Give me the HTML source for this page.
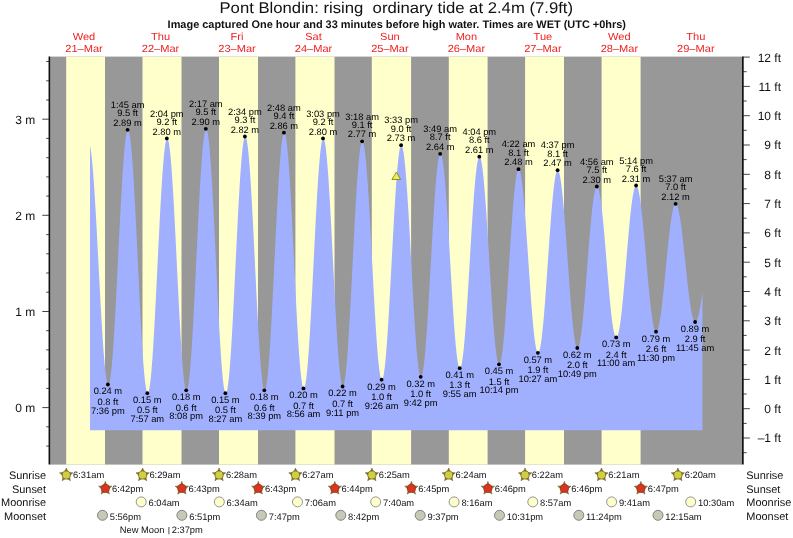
<!DOCTYPE html>
<html><head><meta charset="utf-8"><title>Pont Blondin tide times</title>
<style>
html,body{margin:0;padding:0;background:#fff}
svg{display:block}
text{font-family:"Liberation Sans",Arial,Helvetica,sans-serif;fill:#111;text-rendering:geometricPrecision}
.t{font-size:9.33px;text-anchor:middle;fill:#000}
.s{font-size:9.33px}
.d{font-size:10.3px;text-anchor:middle;fill:#f02020}
.a{font-size:12px}
.r{font-size:10.95px}
</style></head><body>
<svg width="793" height="538" viewBox="0 0 793 538">
<rect width="793" height="538" fill="#fff"/>
<text transform="translate(396.25 13) scale(1.0771 1)" x="0" y="0" text-anchor="middle" style="font-size:15.5px">Pont Blondin: rising&#160; ordinary tide at 2.4m (7.9ft)</text>
<text x="396.8" y="27.5" text-anchor="middle" style="font-size:10.94px;font-weight:bold">Image captured One hour and 33 minutes before high water. Times are WET (UTC +0hrs)</text>
<g transform="translate(84.0 0) scale(1.075 1)"><text class="d" x="0" y="39.6">Wed</text><text class="d" x="0" y="51.7">21–Mar</text></g>
<g transform="translate(160.5 0) scale(1.075 1)"><text class="d" x="0" y="39.6">Thu</text><text class="d" x="0" y="51.7">22–Mar</text></g>
<g transform="translate(237.0 0) scale(1.075 1)"><text class="d" x="0" y="39.6">Fri</text><text class="d" x="0" y="51.7">23–Mar</text></g>
<g transform="translate(313.5 0) scale(1.075 1)"><text class="d" x="0" y="39.6">Sat</text><text class="d" x="0" y="51.7">24–Mar</text></g>
<g transform="translate(389.9 0) scale(1.075 1)"><text class="d" x="0" y="39.6">Sun</text><text class="d" x="0" y="51.7">25–Mar</text></g>
<g transform="translate(466.4 0) scale(1.075 1)"><text class="d" x="0" y="39.6">Mon</text><text class="d" x="0" y="51.7">26–Mar</text></g>
<g transform="translate(542.9 0) scale(1.075 1)"><text class="d" x="0" y="39.6">Tue</text><text class="d" x="0" y="51.7">27–Mar</text></g>
<g transform="translate(619.4 0) scale(1.075 1)"><text class="d" x="0" y="39.6">Wed</text><text class="d" x="0" y="51.7">28–Mar</text></g>
<g transform="translate(695.8 0) scale(1.075 1)"><text class="d" x="0" y="39.6">Thu</text><text class="d" x="0" y="51.7">29–Mar</text></g>
<rect x="50" y="56.6" width="692" height="408.0" fill="#989898"/>
<rect x="66.2" y="56.6" width="38.8" height="408.0" fill="#ffffcc"/>
<rect x="142.5" y="56.6" width="39.0" height="408.0" fill="#ffffcc"/>
<rect x="219.0" y="56.6" width="39.0" height="408.0" fill="#ffffcc"/>
<rect x="295.4" y="56.6" width="39.1" height="408.0" fill="#ffffcc"/>
<rect x="371.8" y="56.6" width="39.3" height="408.0" fill="#ffffcc"/>
<rect x="448.8" y="56.6" width="38.8" height="408.0" fill="#ffffcc"/>
<rect x="525.1" y="56.6" width="38.9" height="408.0" fill="#ffffcc"/>
<rect x="601.6" y="56.6" width="39.0" height="408.0" fill="#ffffcc"/>
<path transform="translate(0.5 0)" d="M89.53 430.20L89.53 145.89L89.97 148.07L90.41 150.82L90.85 154.11L91.28 157.92L91.72 162.25L92.16 167.08L92.60 172.36L93.03 178.09L93.47 184.23L93.91 190.76L94.34 197.64L94.78 204.84L95.22 212.32L95.66 220.05L96.09 227.99L96.53 236.11L96.97 244.36L97.41 252.70L97.84 261.09L98.28 269.50L98.72 277.87L99.16 286.18L99.59 294.38L100.03 302.44L100.47 310.30L100.91 317.94L101.34 325.31L101.78 332.39L102.22 339.13L102.66 345.51L103.09 351.50L103.53 357.06L103.97 362.16L104.41 366.79L104.84 370.93L105.28 374.54L105.72 377.62L106.16 380.14L106.59 382.10L107.03 383.49L107.47 384.30L107.91 384.52L108.34 384.14L108.78 383.13L109.22 381.50L109.66 379.26L110.09 376.42L110.53 373.00L110.97 369.00L111.40 364.46L111.84 359.39L112.28 353.81L112.72 347.76L113.15 341.27L113.59 334.36L114.03 327.07L114.47 319.44L114.90 311.50L115.34 303.29L115.78 294.86L116.22 286.24L116.65 277.48L117.09 268.62L117.53 259.71L117.97 250.78L118.40 241.88L118.84 233.06L119.28 224.35L119.72 215.81L120.15 207.47L120.59 199.37L121.03 191.56L121.47 184.07L121.90 176.94L122.34 170.21L122.78 163.90L123.22 158.05L123.65 152.69L124.09 147.84L124.53 143.53L124.97 139.77L125.40 136.60L125.84 134.01L126.28 132.04L126.72 130.67L127.15 129.93L127.59 129.82L128.03 130.33L128.47 131.49L128.90 133.27L129.34 135.67L129.78 138.68L130.21 142.29L130.65 146.47L131.09 151.21L131.53 156.48L131.96 162.26L132.40 168.51L132.84 175.22L133.28 182.35L133.71 189.86L134.15 197.71L134.59 205.87L135.03 214.31L135.46 222.97L135.90 231.81L136.34 240.80L136.78 249.89L137.21 259.04L137.65 268.20L138.09 277.32L138.53 286.37L138.96 295.30L139.40 304.06L139.84 312.62L140.28 320.93L140.71 328.96L141.15 336.66L141.59 343.99L142.03 350.92L142.46 357.43L142.90 363.47L143.34 369.01L143.78 374.04L144.21 378.52L144.65 382.43L145.09 385.76L145.53 388.49L145.96 390.60L146.40 392.09L146.84 392.95L147.27 393.17L147.71 392.76L148.15 391.72L148.59 390.05L149.02 387.76L149.46 384.87L149.90 381.39L150.34 377.33L150.77 372.72L151.21 367.57L151.65 361.92L152.09 355.80L152.52 349.22L152.96 342.23L153.40 334.87L153.84 327.15L154.27 319.14L154.71 310.86L155.15 302.35L155.59 293.66L156.02 284.84L156.46 275.92L156.90 266.95L157.34 257.97L157.77 249.04L158.21 240.18L158.65 231.46L159.09 222.90L159.52 214.56L159.96 206.47L160.40 198.68L160.84 191.22L161.27 184.13L161.71 177.45L162.15 171.20L162.59 165.43L163.02 160.16L163.46 155.41L163.90 151.21L164.33 147.57L164.77 144.53L165.21 142.09L165.65 140.26L166.08 139.06L166.52 138.49L166.96 138.55L167.40 139.24L167.83 140.57L168.27 142.53L168.71 145.09L169.15 148.27L169.58 152.02L170.02 156.35L170.46 161.22L170.90 166.61L171.33 172.50L171.77 178.85L172.21 185.63L172.65 192.81L173.08 200.35L173.52 208.21L173.96 216.36L174.40 224.75L174.83 233.34L175.27 242.09L175.71 250.95L176.15 259.88L176.58 268.83L177.02 277.76L177.46 286.62L177.90 295.36L178.33 303.96L178.77 312.35L179.21 320.50L179.65 328.36L180.08 335.90L180.52 343.08L180.96 349.87L181.40 356.22L181.83 362.10L182.27 367.50L182.71 372.37L183.14 376.70L183.58 380.46L184.02 383.63L184.46 386.20L184.89 388.16L185.33 389.49L185.77 390.18L186.21 390.24L186.64 389.66L187.08 388.45L187.52 386.59L187.96 384.12L188.39 381.03L188.83 377.34L189.27 373.07L189.71 368.25L190.14 362.89L190.58 357.03L191.02 350.68L191.46 343.89L191.89 336.68L192.33 329.10L192.77 321.17L193.21 312.94L193.64 304.44L194.08 295.73L194.52 286.84L194.96 277.81L195.39 268.70L195.83 259.54L196.27 250.38L196.71 241.26L197.14 232.23L197.58 223.34L198.02 214.63L198.46 206.14L198.89 197.91L199.33 189.98L199.77 182.40L200.20 175.19L200.64 168.40L201.08 162.06L201.52 156.20L201.95 150.84L202.39 146.02L202.83 141.76L203.27 138.08L203.70 134.99L204.14 132.52L204.58 130.67L205.02 129.45L205.45 128.87L205.89 128.94L206.33 129.65L206.77 131.01L207.20 133.00L207.64 135.61L208.08 138.84L208.52 142.67L208.95 147.07L209.39 152.03L209.83 157.53L210.27 163.53L210.70 170.00L211.14 176.93L211.58 184.26L212.02 191.97L212.45 200.01L212.89 208.36L213.33 216.96L213.77 225.77L214.20 234.76L214.64 243.88L215.08 253.08L215.52 262.32L215.95 271.55L216.39 280.73L216.83 289.82L217.26 298.76L217.70 307.52L218.14 316.05L218.58 324.32L219.01 332.27L219.45 339.87L219.89 347.09L220.33 353.89L220.76 360.24L221.20 366.09L221.64 371.44L222.08 376.24L222.51 380.49L222.95 384.14L223.39 387.20L223.83 389.64L224.26 391.45L224.70 392.62L225.14 393.15L225.58 393.03L226.01 392.28L226.45 390.89L226.89 388.88L227.33 386.25L227.76 383.02L228.20 379.20L228.64 374.81L229.08 369.88L229.51 364.42L229.95 358.47L230.39 352.05L230.83 345.20L231.26 337.95L231.70 330.34L232.14 322.40L232.58 314.18L233.01 305.71L233.45 297.04L233.89 288.21L234.33 279.26L234.76 270.24L235.20 261.19L235.64 252.17L236.07 243.20L236.51 234.34L236.95 225.64L237.39 217.13L237.82 208.85L238.26 200.86L238.70 193.18L239.14 185.86L239.57 178.93L240.01 172.42L240.45 166.38L240.89 160.83L241.32 155.79L241.76 151.30L242.20 147.37L242.64 144.02L243.07 141.27L243.51 139.14L243.95 137.63L244.39 136.76L244.82 136.52L245.26 136.92L245.70 137.95L246.14 139.62L246.57 141.90L247.01 144.80L247.45 148.29L247.89 152.36L248.32 156.99L248.76 162.15L249.20 167.83L249.64 173.98L250.07 180.58L250.51 187.60L250.95 195.00L251.39 202.74L251.82 210.79L252.26 219.10L252.70 227.63L253.13 236.34L253.57 245.19L254.01 254.13L254.45 263.12L254.88 272.11L255.32 281.06L255.76 289.91L256.20 298.64L256.63 307.18L257.07 315.51L257.51 323.57L257.95 331.34L258.38 338.76L258.82 345.80L259.26 352.43L259.70 358.61L260.13 364.31L260.57 369.51L261.01 374.17L261.45 378.28L261.88 381.81L262.32 384.74L262.76 387.07L263.20 388.77L263.63 389.85L264.07 390.29L264.51 390.09L264.95 389.26L265.38 387.80L265.82 385.72L266.26 383.03L266.70 379.75L267.13 375.88L267.57 371.45L268.01 366.48L268.45 360.99L268.88 355.01L269.32 348.58L269.76 341.71L270.19 334.45L270.63 326.84L271.07 318.90L271.51 310.68L271.94 302.22L272.38 293.55L272.82 284.73L273.26 275.80L273.69 266.79L274.13 257.76L274.57 248.75L275.01 239.80L275.44 230.95L275.88 222.26L276.32 213.76L276.76 205.49L277.19 197.50L277.63 189.83L278.07 182.50L278.51 175.57L278.94 169.05L279.38 162.99L279.82 157.42L280.26 152.35L280.69 147.83L281.13 143.86L281.57 140.47L282.01 137.67L282.44 135.49L282.88 133.92L283.32 132.98L283.76 132.67L284.19 132.99L284.63 133.95L285.07 135.53L285.51 137.72L285.94 140.53L286.38 143.92L286.82 147.90L287.26 152.43L287.69 157.49L288.13 163.07L288.57 169.12L289.00 175.63L289.44 182.56L289.88 189.87L290.32 197.53L290.75 205.50L291.19 213.74L291.63 222.22L292.07 230.89L292.50 239.70L292.94 248.61L293.38 257.58L293.82 266.57L294.25 275.53L294.69 284.41L295.13 293.18L295.57 301.78L296.00 310.18L296.44 318.34L296.88 326.21L297.32 333.75L297.75 340.93L298.19 347.72L298.63 354.07L299.07 359.96L299.50 365.36L299.94 370.25L300.38 374.59L300.82 378.36L301.25 381.55L301.69 384.15L302.13 386.13L302.57 387.50L303.00 388.23L303.44 388.34L303.88 387.82L304.32 386.69L304.75 384.94L305.19 382.58L305.63 379.64L306.06 376.12L306.50 372.03L306.94 367.41L307.38 362.27L307.81 356.64L308.25 350.55L308.69 344.02L309.13 337.09L309.56 329.80L310.00 322.18L310.44 314.26L310.88 306.09L311.31 297.71L311.75 289.16L312.19 280.48L312.63 271.72L313.06 262.91L313.50 254.11L313.94 245.35L314.38 236.69L314.81 228.15L315.25 219.79L315.69 211.65L316.13 203.77L316.56 196.18L317.00 188.92L317.44 182.04L317.88 175.56L318.31 169.51L318.75 163.94L319.19 158.86L319.63 154.29L320.06 150.27L320.50 146.81L320.94 143.93L321.38 141.65L321.81 139.97L322.25 138.90L322.69 138.45L323.13 138.62L323.56 139.40L324.00 140.79L324.44 142.79L324.87 145.37L325.31 148.53L325.75 152.25L326.19 156.52L326.62 161.32L327.06 166.61L327.50 172.37L327.94 178.59L328.37 185.21L328.81 192.22L329.25 199.57L329.69 207.24L330.12 215.18L330.56 223.35L331.00 231.71L331.44 240.23L331.87 248.86L332.31 257.55L332.75 266.27L333.19 274.97L333.62 283.60L334.06 292.14L334.50 300.52L334.94 308.72L335.37 316.69L335.81 324.39L336.25 331.78L336.69 338.84L337.12 345.51L337.56 351.77L338.00 357.60L338.44 362.95L338.87 367.80L339.31 372.14L339.75 375.93L340.19 379.16L340.62 381.82L341.06 383.88L341.50 385.35L341.93 386.20L342.37 386.45L342.81 386.08L343.25 385.11L343.68 383.54L344.12 381.37L344.56 378.61L345.00 375.29L345.43 371.41L345.87 367.00L346.31 362.08L346.75 356.67L347.18 350.79L347.62 344.49L348.06 337.78L348.50 330.71L348.93 323.31L349.37 315.61L349.81 307.65L350.25 299.48L350.68 291.13L351.12 282.64L351.56 274.06L352.00 265.43L352.43 256.79L352.87 248.19L353.31 239.66L353.75 231.26L354.18 223.02L354.62 214.98L355.06 207.18L355.50 199.67L355.93 192.47L356.37 185.63L356.81 179.18L357.25 173.15L357.68 167.57L358.12 162.47L358.56 157.87L358.99 153.80L359.43 150.28L359.87 147.32L360.31 144.94L360.74 143.15L361.18 141.97L361.62 141.38L362.06 141.41L362.49 142.02L362.93 143.22L363.37 145.00L363.81 147.35L364.24 150.26L364.68 153.71L365.12 157.70L365.56 162.19L365.99 167.17L366.43 172.60L366.87 178.48L367.31 184.75L367.74 191.41L368.18 198.40L368.62 205.70L369.06 213.27L369.49 221.08L369.93 229.08L370.37 237.24L370.81 245.51L371.24 253.85L371.68 262.23L372.12 270.60L372.56 278.92L372.99 287.15L373.43 295.25L373.87 303.17L374.31 310.89L374.74 318.35L375.18 325.53L375.62 332.39L376.06 338.90L376.49 345.01L376.93 350.71L377.37 355.97L377.80 360.75L378.24 365.03L378.68 368.80L379.12 372.04L379.55 374.72L379.99 376.84L380.43 378.38L380.87 379.34L381.30 379.72L381.74 379.50L382.18 378.71L382.62 377.34L383.05 375.39L383.49 372.89L383.93 369.84L384.37 366.25L384.80 362.15L385.24 357.55L385.68 352.48L386.12 346.96L386.55 341.02L386.99 334.69L387.43 328.00L387.87 320.99L388.30 313.69L388.74 306.13L389.18 298.35L389.62 290.40L390.05 282.30L390.49 274.11L390.93 265.86L391.37 257.59L391.80 249.35L392.24 241.17L392.68 233.10L393.12 225.17L393.55 217.43L393.99 209.91L394.43 202.66L394.86 195.70L395.30 189.07L395.74 182.81L396.18 176.94L396.61 171.50L397.05 166.51L397.49 161.99L397.93 157.98L398.36 154.48L398.80 151.52L399.24 149.12L399.68 147.27L400.11 146.00L400.55 145.30L400.99 145.19L401.43 145.65L401.86 146.68L402.30 148.27L402.74 150.41L403.18 153.10L403.61 156.32L404.05 160.05L404.49 164.28L404.93 168.98L405.36 174.14L405.80 179.72L406.24 185.70L406.68 192.05L407.11 198.75L407.55 205.74L407.99 213.01L408.43 220.52L408.86 228.22L409.30 236.09L409.74 244.07L410.18 252.15L410.61 260.26L411.05 268.38L411.49 276.46L411.92 284.47L412.36 292.36L412.80 300.09L413.24 307.64L413.67 314.95L414.11 322.00L414.55 328.75L414.99 335.17L415.42 341.22L415.86 346.88L416.30 352.12L416.74 356.90L417.17 361.22L417.61 365.04L418.05 368.36L418.49 371.14L418.92 373.38L419.36 375.08L419.80 376.21L420.24 376.77L420.67 376.77L421.11 376.21L421.55 375.10L421.99 373.44L422.42 371.25L422.86 368.53L423.30 365.30L423.74 361.57L424.17 357.36L424.61 352.70L425.05 347.60L425.49 342.09L425.92 336.21L426.36 329.97L426.80 323.40L427.24 316.55L427.67 309.45L428.11 302.12L428.55 294.62L428.99 286.96L429.42 279.20L429.86 271.37L430.30 263.51L430.73 255.66L431.17 247.86L431.61 240.15L432.05 232.56L432.48 225.13L432.92 217.90L433.36 210.91L433.80 204.19L434.23 197.77L434.67 191.69L435.11 185.97L435.55 180.65L435.98 175.75L436.42 171.29L436.86 167.30L437.30 163.80L437.73 160.80L438.17 158.33L438.61 156.38L439.05 154.98L439.48 154.12L439.92 153.82L440.36 154.06L440.80 154.84L441.23 156.14L441.67 157.97L442.11 160.32L442.55 163.17L442.98 166.51L443.42 170.32L443.86 174.58L444.30 179.27L444.73 184.38L445.17 189.86L445.61 195.70L446.05 201.87L446.48 208.34L446.92 215.06L447.36 222.02L447.79 229.17L448.23 236.48L448.67 243.91L449.11 251.43L449.54 258.99L449.98 266.57L450.42 274.12L450.86 281.60L451.29 288.98L451.73 296.22L452.17 303.28L452.61 310.13L453.04 316.74L453.48 323.07L453.92 329.08L454.36 334.76L454.79 340.07L455.23 344.99L455.67 349.48L456.11 353.53L456.54 357.12L456.98 360.23L457.42 362.85L457.86 364.95L458.29 366.54L458.73 367.60L459.17 368.12L459.61 368.12L460.04 367.59L460.48 366.54L460.92 364.99L461.36 362.93L461.79 360.37L462.23 357.33L462.67 353.83L463.11 349.88L463.54 345.50L463.98 340.71L464.42 335.53L464.85 330.00L465.29 324.13L465.73 317.96L466.17 311.52L466.60 304.84L467.04 297.95L467.48 290.88L467.92 283.67L468.35 276.36L468.79 268.98L469.23 261.57L469.67 254.17L470.10 246.80L470.54 239.51L470.98 232.33L471.42 225.31L471.85 218.46L472.29 211.83L472.73 205.45L473.17 199.35L473.60 193.56L474.04 188.11L474.48 183.02L474.92 178.32L475.35 174.04L475.79 170.19L476.23 166.80L476.67 163.87L477.10 161.43L477.54 159.49L477.98 158.05L478.42 157.13L478.85 156.72L479.29 156.83L479.73 157.45L480.17 158.57L480.60 160.19L481.04 162.30L481.48 164.89L481.92 167.95L482.35 171.46L482.79 175.41L483.23 179.77L483.66 184.53L484.10 189.65L484.54 195.13L484.98 200.92L485.41 207.01L485.85 213.36L486.29 219.94L486.73 226.71L487.16 233.66L487.60 240.73L488.04 247.90L488.48 255.13L488.91 262.39L489.35 269.64L489.79 276.84L490.23 283.97L490.66 290.98L491.10 297.84L491.54 304.52L491.98 310.98L492.41 317.20L492.85 323.14L493.29 328.77L493.73 334.07L494.16 339.01L494.60 343.57L495.04 347.72L495.48 351.44L495.91 354.72L496.35 357.54L496.79 359.89L497.23 361.75L497.66 363.11L498.10 363.97L498.54 364.33L498.98 364.19L499.41 363.56L499.85 362.46L500.29 360.88L500.72 358.84L501.16 356.35L501.60 353.41L502.04 350.04L502.47 346.26L502.91 342.09L503.35 337.55L503.79 332.65L504.22 327.43L504.66 321.91L505.10 316.12L505.54 310.09L505.97 303.84L506.41 297.40L506.85 290.82L507.29 284.12L507.72 277.33L508.16 270.49L508.60 263.63L509.04 256.78L509.47 249.99L509.91 243.28L510.35 236.68L510.79 230.24L511.22 223.97L511.66 217.91L512.10 212.10L512.54 206.56L512.97 201.31L513.41 196.39L513.85 191.82L514.29 187.61L514.72 183.80L515.16 180.40L515.60 177.42L516.04 174.89L516.47 172.81L516.91 171.19L517.35 170.05L517.78 169.38L518.22 169.20L518.66 169.49L519.10 170.23L519.53 171.43L519.97 173.08L520.41 175.18L520.85 177.70L521.28 180.64L521.72 183.99L522.16 187.72L522.60 191.82L523.03 196.27L523.47 201.05L523.91 206.12L524.35 211.47L524.78 217.07L525.22 222.89L525.66 228.91L526.10 235.08L526.53 241.38L526.97 247.78L527.41 254.25L527.85 260.75L528.28 267.26L528.72 273.73L529.16 280.14L529.60 286.45L530.03 292.63L530.47 298.66L530.91 304.50L531.35 310.11L531.78 315.48L532.22 320.58L532.66 325.38L533.10 329.85L533.53 333.98L533.97 337.74L534.41 341.12L534.85 344.09L535.28 346.65L535.72 348.78L536.16 350.46L536.59 351.70L537.03 352.48L537.47 352.80L537.91 352.66L538.34 352.08L538.78 351.05L539.22 349.59L539.66 347.70L540.09 345.38L540.53 342.66L540.97 339.53L541.41 336.03L541.84 332.16L542.28 327.95L542.72 323.41L543.16 318.57L543.59 313.45L544.03 308.07L544.47 302.47L544.91 296.67L545.34 290.69L545.78 284.57L546.22 278.34L546.66 272.03L547.09 265.67L547.53 259.28L547.97 252.91L548.41 246.57L548.84 240.31L549.28 234.16L549.72 228.14L550.16 222.28L550.59 216.61L551.03 211.16L551.47 205.96L551.91 201.03L552.34 196.39L552.78 192.07L553.22 188.10L553.65 184.48L554.09 181.24L554.53 178.39L554.97 175.94L555.40 173.92L555.84 172.32L556.28 171.16L556.72 170.44L557.15 170.16L557.59 170.33L558.03 170.92L558.47 171.94L558.90 173.39L559.34 175.24L559.78 177.50L560.22 180.16L560.65 183.20L561.09 186.61L561.53 190.36L561.97 194.45L562.40 198.85L562.84 203.54L563.28 208.50L563.72 213.71L564.15 219.14L564.59 224.75L565.03 230.54L565.47 236.46L565.90 242.49L566.34 248.60L566.78 254.77L567.22 260.95L567.65 267.12L568.09 273.26L568.53 279.33L568.97 285.30L569.40 291.14L569.84 296.83L570.28 302.33L570.72 307.63L571.15 312.69L571.59 317.49L572.03 322.01L572.46 326.22L572.90 330.11L573.34 333.66L573.78 336.84L574.21 339.65L574.65 342.07L575.09 344.09L575.53 345.70L575.96 346.88L576.40 347.65L576.84 347.98L577.28 347.90L577.71 347.41L578.15 346.52L578.59 345.24L579.03 343.57L579.46 341.52L579.90 339.10L580.34 336.33L580.78 333.21L581.21 329.76L581.65 326.01L582.09 321.96L582.53 317.64L582.96 313.07L583.40 308.27L583.84 303.27L584.28 298.09L584.71 292.75L585.15 287.29L585.59 281.73L586.03 276.10L586.46 270.42L586.90 264.73L587.34 259.05L587.78 253.41L588.21 247.84L588.65 242.37L589.09 237.02L589.52 231.82L589.96 226.80L590.40 221.97L590.84 217.37L591.27 213.02L591.71 208.94L592.15 205.15L592.59 201.67L593.02 198.51L593.46 195.70L593.90 193.24L594.34 191.15L594.77 189.44L595.21 188.11L595.65 187.18L596.09 186.64L596.52 186.51L596.96 186.76L597.40 187.39L597.84 188.40L598.27 189.78L598.71 191.53L599.15 193.63L599.59 196.08L600.02 198.86L600.46 201.96L600.90 205.36L601.34 209.05L601.77 213.00L602.21 217.20L602.65 221.63L603.09 226.26L603.52 231.08L603.96 236.04L604.40 241.14L604.84 246.35L605.27 251.63L605.71 256.97L606.15 262.33L606.58 267.69L607.02 273.02L607.46 278.29L607.90 283.48L608.33 288.57L608.77 293.51L609.21 298.30L609.65 302.91L610.08 307.31L610.52 311.48L610.96 315.40L611.40 319.05L611.83 322.41L612.27 325.47L612.71 328.20L613.15 330.60L613.58 332.66L614.02 334.35L614.46 335.68L614.90 336.64L615.33 337.22L615.77 337.42L616.21 337.25L616.65 336.72L617.08 335.83L617.52 334.58L617.96 332.98L618.40 331.03L618.83 328.76L619.27 326.16L619.71 323.26L620.15 320.06L620.58 316.57L621.02 312.83L621.46 308.84L621.90 304.62L622.33 300.20L622.77 295.59L623.21 290.81L623.65 285.90L624.08 280.87L624.52 275.75L624.96 270.56L625.39 265.32L625.83 260.07L626.27 254.83L626.71 249.61L627.14 244.45L627.58 239.38L628.02 234.41L628.46 229.57L628.89 224.88L629.33 220.37L629.77 216.05L630.21 211.95L630.64 208.09L631.08 204.49L631.52 201.15L631.96 198.11L632.39 195.37L632.83 192.94L633.27 190.85L633.71 189.09L634.14 187.67L634.58 186.61L635.02 185.91L635.46 185.57L635.89 185.59L636.33 185.96L636.77 186.68L637.21 187.73L637.64 189.12L638.08 190.83L638.52 192.87L638.96 195.22L639.39 197.87L639.83 200.81L640.27 204.02L640.71 207.48L641.14 211.20L641.58 215.13L642.02 219.27L642.45 223.60L642.89 228.09L643.33 232.73L643.77 237.49L644.20 242.35L644.64 247.28L645.08 252.27L645.52 257.29L645.95 262.32L646.39 267.33L646.83 272.30L647.27 277.20L647.70 282.01L648.14 286.72L648.58 291.29L649.02 295.70L649.45 299.94L649.89 303.99L650.33 307.82L650.77 311.41L651.20 314.76L651.64 317.84L652.08 320.64L652.52 323.15L652.95 325.35L653.39 327.23L653.83 328.79L654.27 330.02L654.70 330.91L655.14 331.45L655.58 331.66L656.02 331.52L656.45 331.07L656.89 330.31L657.33 329.24L657.77 327.86L658.20 326.18L658.64 324.21L659.08 321.96L659.51 319.44L659.95 316.66L660.39 313.64L660.83 310.39L661.26 306.93L661.70 303.28L662.14 299.44L662.58 295.46L663.01 291.33L663.45 287.08L663.89 282.74L664.33 278.33L664.76 273.86L665.20 269.36L665.64 264.86L666.08 260.37L666.51 255.91L666.95 251.51L667.39 247.20L667.83 242.98L668.26 238.89L668.70 234.95L669.14 231.16L669.58 227.56L670.01 224.15L670.45 220.97L670.89 218.01L671.33 215.31L671.76 212.86L672.20 210.68L672.64 208.79L673.08 207.20L673.51 205.90L673.95 204.91L674.39 204.23L674.83 203.87L675.26 203.82L675.70 204.07L676.14 204.62L676.58 205.45L677.01 206.56L677.45 207.95L677.89 209.62L678.32 211.55L678.76 213.73L679.20 216.15L679.64 218.81L680.07 221.68L680.51 224.76L680.95 228.03L681.39 231.47L681.82 235.06L682.26 238.79L682.70 242.64L683.14 246.60L683.57 250.63L684.01 254.72L684.45 258.86L684.89 263.01L685.32 267.16L685.76 271.30L686.20 275.39L686.64 279.42L687.07 283.36L687.51 287.21L687.95 290.94L688.39 294.53L688.82 297.96L689.26 301.22L689.70 304.29L690.14 307.15L690.57 309.80L691.01 312.22L691.45 314.39L691.89 316.30L692.32 317.96L692.76 319.34L693.20 320.44L693.64 321.26L694.07 321.79L694.51 322.03L694.95 321.99L695.38 321.71L695.82 321.20L696.26 320.46L696.70 319.49L697.13 318.30L697.57 316.89L698.01 315.26L698.45 313.44L698.88 311.41L699.32 309.20L699.76 306.81L700.20 304.25L700.63 301.53L701.07 298.67L701.51 295.68L701.95 292.57L701.95 430.20Z" fill="#a0b0ff"/>
<g stroke="#111" stroke-width="1.3" fill="none">
<path d="M49.35 56.6 V464.6" stroke-width="1.6"/><path d="M742.85 56.6 V464.6" stroke-width="1.7"/>
</g><g stroke="#222" stroke-width="0.85" fill="none"><path d="M46.2 446.1H49 M46.2 426.8H49 M42.3 407.6H49 M46.2 388.4H49 M46.2 369.1H49 M46.2 349.9H49 M46.2 330.7H49 M42.3 311.5H49 M46.2 292.2H49 M46.2 273.0H49 M46.2 253.8H49 M46.2 234.6H49 M42.3 215.3H49 M46.2 196.1H49 M46.2 176.9H49 M46.2 157.7H49 M46.2 138.4H49 M42.3 119.2H49 M46.2 100.0H49 M46.2 80.8H49 M46.2 61.5H49 "/><path d="M743 452.7H746.6 M743 438.0H749.8 M743 423.4H746.6 M743 408.7H749.8 M743 394.0H746.6 M743 379.4H749.8 M743 364.7H746.6 M743 350.1H749.8 M743 335.4H746.6 M743 320.8H749.8 M743 306.1H746.6 M743 291.5H749.8 M743 276.8H746.6 M743 262.2H749.8 M743 247.5H746.6 M743 232.9H749.8 M743 218.2H746.6 M743 203.6H749.8 M743 188.9H746.6 M743 174.3H749.8 M743 159.6H746.6 M743 145.0H749.8 M743 130.3H746.6 M743 115.7H749.8 M743 101.0H746.6 M743 86.4H749.8 M743 71.7H746.6 M743 57.1H749.8 "/></g>
<text class="a" x="35.2" y="411.8" text-anchor="end">0 m</text><text class="a" x="35.2" y="315.6" text-anchor="end">1 m</text><text class="a" x="35.2" y="220.4" text-anchor="end">2 m</text><text class="a" x="35.2" y="124.3" text-anchor="end">3 m</text>
<text class="a" x="781" y="442.4" text-anchor="end">–1 ft</text><text class="a" x="781" y="413.1" text-anchor="end">0 ft</text><text class="a" x="781" y="383.8" text-anchor="end">1 ft</text><text class="a" x="781" y="354.5" text-anchor="end">2 ft</text><text class="a" x="781" y="325.2" text-anchor="end">3 ft</text><text class="a" x="781" y="295.9" text-anchor="end">4 ft</text><text class="a" x="781" y="266.6" text-anchor="end">5 ft</text><text class="a" x="781" y="237.3" text-anchor="end">6 ft</text><text class="a" x="781" y="208.0" text-anchor="end">7 ft</text><text class="a" x="781" y="178.7" text-anchor="end">8 ft</text><text class="a" x="781" y="149.4" text-anchor="end">9 ft</text><text class="a" x="781" y="120.1" text-anchor="end">10 ft</text><text class="a" x="781" y="90.8" text-anchor="end">11 ft</text><text class="a" x="781" y="61.5" text-anchor="end">12 ft</text>
<circle cx="107.9" cy="384.5" r="1.9" fill="#000"/><text class="t" x="107.9" y="394.3">0.24 m</text><text class="t" x="107.9" y="404.7">0.8 ft</text><text class="t" x="107.9" y="413.5">7:36 pm</text>
<circle cx="127.6" cy="129.8" r="1.9" fill="#000"/><text class="t" x="127.6" y="108.0">1:45 am</text><text class="t" x="127.6" y="116.3">9.5 ft</text><text class="t" x="127.6" y="125.9">2.89 m</text>
<circle cx="147.3" cy="393.2" r="1.9" fill="#000"/><text class="t" x="147.3" y="403.0">0.15 m</text><text class="t" x="147.3" y="413.4">0.5 ft</text><text class="t" x="147.3" y="422.2">7:57 am</text>
<circle cx="166.8" cy="138.4" r="1.9" fill="#000"/><text class="t" x="166.8" y="116.6">2:04 pm</text><text class="t" x="166.8" y="124.9">9.2 ft</text><text class="t" x="166.8" y="134.5">2.80 m</text>
<circle cx="186.2" cy="390.3" r="1.9" fill="#000"/><text class="t" x="186.2" y="400.1">0.18 m</text><text class="t" x="186.2" y="410.5">0.6 ft</text><text class="t" x="186.2" y="419.3">8:08 pm</text>
<circle cx="205.8" cy="128.8" r="1.9" fill="#000"/><text class="t" x="205.8" y="107.0">2:17 am</text><text class="t" x="205.8" y="115.3">9.5 ft</text><text class="t" x="205.8" y="124.9">2.90 m</text>
<circle cx="225.4" cy="393.2" r="1.9" fill="#000"/><text class="t" x="225.4" y="403.0">0.15 m</text><text class="t" x="225.4" y="413.4">0.5 ft</text><text class="t" x="225.4" y="422.2">8:27 am</text>
<circle cx="244.9" cy="136.5" r="1.9" fill="#000"/><text class="t" x="244.9" y="114.7">2:34 pm</text><text class="t" x="244.9" y="123.0">9.3 ft</text><text class="t" x="244.9" y="132.6">2.82 m</text>
<circle cx="264.3" cy="390.3" r="1.9" fill="#000"/><text class="t" x="264.3" y="400.1">0.18 m</text><text class="t" x="264.3" y="410.5">0.6 ft</text><text class="t" x="264.3" y="419.3">8:39 pm</text>
<circle cx="283.9" cy="132.7" r="1.9" fill="#000"/><text class="t" x="283.9" y="110.9">2:48 am</text><text class="t" x="283.9" y="119.2">9.4 ft</text><text class="t" x="283.9" y="128.8">2.86 m</text>
<circle cx="303.5" cy="388.4" r="1.9" fill="#000"/><text class="t" x="303.5" y="398.2">0.20 m</text><text class="t" x="303.5" y="408.6">0.7 ft</text><text class="t" x="303.5" y="417.4">8:56 am</text>
<circle cx="323.0" cy="138.4" r="1.9" fill="#000"/><text class="t" x="323.0" y="116.6">3:03 pm</text><text class="t" x="323.0" y="124.9">9.2 ft</text><text class="t" x="323.0" y="134.5">2.80 m</text>
<circle cx="342.6" cy="386.5" r="1.9" fill="#000"/><text class="t" x="342.6" y="396.3">0.22 m</text><text class="t" x="342.6" y="406.7">0.7 ft</text><text class="t" x="342.6" y="415.5">9:11 pm</text>
<circle cx="362.1" cy="141.3" r="1.9" fill="#000"/><text class="t" x="362.1" y="119.5">3:18 am</text><text class="t" x="362.1" y="127.8">9.1 ft</text><text class="t" x="362.1" y="137.4">2.77 m</text>
<circle cx="381.6" cy="379.7" r="1.9" fill="#000"/><text class="t" x="381.6" y="389.5">0.29 m</text><text class="t" x="381.6" y="399.9">1.0 ft</text><text class="t" x="381.6" y="408.7">9:26 am</text>
<circle cx="401.1" cy="145.2" r="1.9" fill="#000"/><text class="t" x="401.1" y="123.4">3:33 pm</text><text class="t" x="401.1" y="131.7">9.0 ft</text><text class="t" x="401.1" y="141.3">2.73 m</text>
<circle cx="420.7" cy="376.8" r="1.9" fill="#000"/><text class="t" x="420.7" y="386.6">0.32 m</text><text class="t" x="420.7" y="397.0">1.0 ft</text><text class="t" x="420.7" y="405.8">9:42 pm</text>
<circle cx="440.2" cy="153.8" r="1.9" fill="#000"/><text class="t" x="440.2" y="132.0">3:49 am</text><text class="t" x="440.2" y="140.3">8.7 ft</text><text class="t" x="440.2" y="149.9">2.64 m</text>
<circle cx="459.7" cy="368.2" r="1.9" fill="#000"/><text class="t" x="459.7" y="378.0">0.41 m</text><text class="t" x="459.7" y="388.4">1.3 ft</text><text class="t" x="459.7" y="397.2">9:55 am</text>
<circle cx="479.3" cy="156.7" r="1.9" fill="#000"/><text class="t" x="479.3" y="134.9">4:04 pm</text><text class="t" x="479.3" y="143.2">8.6 ft</text><text class="t" x="479.3" y="152.8">2.61 m</text>
<circle cx="499.0" cy="364.3" r="1.9" fill="#000"/><text class="t" x="499.0" y="374.1">0.45 m</text><text class="t" x="499.0" y="384.5">1.5 ft</text><text class="t" x="499.0" y="393.3">10:14 pm</text>
<circle cx="518.5" cy="169.2" r="1.9" fill="#000"/><text class="t" x="518.5" y="147.4">4:22 am</text><text class="t" x="518.5" y="155.7">8.1 ft</text><text class="t" x="518.5" y="165.3">2.48 m</text>
<circle cx="537.9" cy="352.8" r="1.9" fill="#000"/><text class="t" x="537.9" y="362.6">0.57 m</text><text class="t" x="537.9" y="373.0">1.9 ft</text><text class="t" x="537.9" y="381.8">10:27 am</text>
<circle cx="557.6" cy="170.2" r="1.9" fill="#000"/><text class="t" x="557.6" y="148.4">4:37 pm</text><text class="t" x="557.6" y="156.7">8.1 ft</text><text class="t" x="557.6" y="166.3">2.47 m</text>
<circle cx="577.3" cy="348.0" r="1.9" fill="#000"/><text class="t" x="577.3" y="357.8">0.62 m</text><text class="t" x="577.3" y="368.2">2.0 ft</text><text class="t" x="577.3" y="377.0">10:49 pm</text>
<circle cx="596.8" cy="186.5" r="1.9" fill="#000"/><text class="t" x="596.8" y="164.7">4:56 am</text><text class="t" x="596.8" y="173.0">7.5 ft</text><text class="t" x="596.8" y="182.6">2.30 m</text>
<circle cx="616.2" cy="337.4" r="1.9" fill="#000"/><text class="t" x="616.2" y="347.2">0.73 m</text><text class="t" x="616.2" y="357.6">2.4 ft</text><text class="t" x="616.2" y="366.4">11:00 am</text>
<circle cx="636.1" cy="185.5" r="1.9" fill="#000"/><text class="t" x="636.1" y="163.7">5:14 pm</text><text class="t" x="636.1" y="172.0">7.6 ft</text><text class="t" x="636.1" y="181.6">2.31 m</text>
<circle cx="656.0" cy="331.7" r="1.9" fill="#000"/><text class="t" x="656.0" y="341.5">0.79 m</text><text class="t" x="656.0" y="351.9">2.6 ft</text><text class="t" x="656.0" y="360.7">11:30 pm</text>
<circle cx="675.6" cy="203.8" r="1.9" fill="#000"/><text class="t" x="675.6" y="182.0">5:37 am</text><text class="t" x="675.6" y="190.3">7.0 ft</text><text class="t" x="675.6" y="199.9">2.12 m</text>
<circle cx="695.1" cy="322.0" r="1.9" fill="#000"/><text class="t" x="695.1" y="331.8">0.89 m</text><text class="t" x="695.1" y="342.2">2.9 ft</text><text class="t" x="695.1" y="351.0">11:45 am</text>
<path d="M396.4 172.1L400.7 179.5H391.9Z" fill="#eeee44" stroke="#77772a" stroke-width="0.8"/>
<text class="r" x="46.0" y="478.8" text-anchor="end">Sunrise</text><text class="r" x="746.3" y="478.8">Sunrise</text>
<text class="r" x="46.0" y="492.6" text-anchor="end">Sunset</text><text class="r" x="746.3" y="492.6">Sunset</text>
<text class="r" x="46.0" y="506.1" text-anchor="end">Moonrise</text><text class="r" x="746.3" y="506.1">Moonrise</text>
<text class="r" x="46.0" y="519.6" text-anchor="end">Moonset</text><text class="r" x="746.3" y="519.6">Moonset</text>
<path d="M66.3 468.0L68.1 472.5L72.9 472.8L69.2 476.0L70.4 480.7L66.3 478.1L62.2 480.7L63.3 476.0L59.6 472.8L64.4 472.5Z" fill="#94742a" stroke="#6b5010" stroke-width="0.5"/><circle cx="66.3" cy="475.0" r="4.1" fill="#cfcf40" stroke="#5e5a14" stroke-width="0.7"/><text class="s" x="73.1" y="477.8">6:31am</text>
<path d="M142.6 468.0L144.5 472.5L149.3 472.8L145.6 476.0L146.7 480.7L142.6 478.1L138.5 480.7L139.7 476.0L136.0 472.8L140.8 472.5Z" fill="#94742a" stroke="#6b5010" stroke-width="0.5"/><circle cx="142.6" cy="475.0" r="4.1" fill="#cfcf40" stroke="#5e5a14" stroke-width="0.7"/><text class="s" x="149.4" y="477.8">6:29am</text>
<path d="M219.1 468.0L220.9 472.5L225.7 472.8L222.0 476.0L223.2 480.7L219.1 478.1L214.9 480.7L216.1 476.0L212.4 472.8L217.2 472.5Z" fill="#94742a" stroke="#6b5010" stroke-width="0.5"/><circle cx="219.1" cy="475.0" r="4.1" fill="#cfcf40" stroke="#5e5a14" stroke-width="0.7"/><text class="s" x="225.9" y="477.8">6:28am</text>
<path d="M295.5 468.0L297.3 472.5L302.1 472.8L298.4 476.0L299.6 480.7L295.5 478.1L291.4 480.7L292.5 476.0L288.8 472.8L293.7 472.5Z" fill="#94742a" stroke="#6b5010" stroke-width="0.5"/><circle cx="295.5" cy="475.0" r="4.1" fill="#cfcf40" stroke="#5e5a14" stroke-width="0.7"/><text class="s" x="302.3" y="477.8">6:27am</text>
<path d="M371.9 468.0L373.7 472.5L378.5 472.8L374.8 476.0L376.0 480.7L371.9 478.1L367.7 480.7L368.9 476.0L365.2 472.8L370.0 472.5Z" fill="#94742a" stroke="#6b5010" stroke-width="0.5"/><circle cx="371.9" cy="475.0" r="4.1" fill="#cfcf40" stroke="#5e5a14" stroke-width="0.7"/><text class="s" x="378.7" y="477.8">6:25am</text>
<path d="M448.7 468.0L450.5 472.5L455.3 472.8L451.6 476.0L452.8 480.7L448.7 478.1L444.6 480.7L445.7 476.0L442.0 472.8L446.9 472.5Z" fill="#94742a" stroke="#6b5010" stroke-width="0.5"/><circle cx="448.7" cy="475.0" r="4.1" fill="#cfcf40" stroke="#5e5a14" stroke-width="0.7"/><text class="s" x="455.5" y="477.8">6:24am</text>
<path d="M525.0 468.0L526.9 472.5L531.7 472.8L528.0 476.0L529.2 480.7L525.0 478.1L520.9 480.7L522.1 476.0L518.4 472.8L523.2 472.5Z" fill="#94742a" stroke="#6b5010" stroke-width="0.5"/><circle cx="525.0" cy="475.0" r="4.1" fill="#cfcf40" stroke="#5e5a14" stroke-width="0.7"/><text class="s" x="531.8" y="477.8">6:22am</text>
<path d="M601.5 468.0L603.3 472.5L608.1 472.8L604.4 476.0L605.6 480.7L601.5 478.1L597.4 480.7L598.5 476.0L594.8 472.8L599.6 472.5Z" fill="#94742a" stroke="#6b5010" stroke-width="0.5"/><circle cx="601.5" cy="475.0" r="4.1" fill="#cfcf40" stroke="#5e5a14" stroke-width="0.7"/><text class="s" x="608.3" y="477.8">6:21am</text>
<path d="M677.9 468.0L679.7 472.5L684.5 472.8L680.8 476.0L682.0 480.7L677.9 478.1L673.8 480.7L674.9 476.0L671.2 472.8L676.1 472.5Z" fill="#94742a" stroke="#6b5010" stroke-width="0.5"/><circle cx="677.9" cy="475.0" r="4.1" fill="#cfcf40" stroke="#5e5a14" stroke-width="0.7"/><text class="s" x="684.7" y="477.8">6:20am</text>
<path d="M105.3 481.4L107.1 485.9L111.9 486.2L108.2 489.4L109.4 494.1L105.3 491.5L101.2 494.1L102.3 489.4L98.6 486.2L103.5 485.9Z" fill="#94742a" stroke="#6b5010" stroke-width="0.5"/><circle cx="105.3" cy="488.4" r="4.1" fill="#dd3322" stroke="#7a3a14" stroke-width="0.7"/><text class="s" x="112.1" y="492.4">6:42pm</text>
<path d="M181.8 481.4L183.6 485.9L188.5 486.2L184.8 489.4L185.9 494.1L181.8 491.5L177.7 494.1L178.9 489.4L175.2 486.2L180.0 485.9Z" fill="#94742a" stroke="#6b5010" stroke-width="0.5"/><circle cx="181.8" cy="488.4" r="4.1" fill="#dd3322" stroke="#7a3a14" stroke-width="0.7"/><text class="s" x="188.6" y="492.4">6:43pm</text>
<path d="M258.3 481.4L260.1 485.9L265.0 486.2L261.2 489.4L262.4 494.1L258.3 491.5L254.2 494.1L255.3 489.4L251.6 486.2L256.5 485.9Z" fill="#94742a" stroke="#6b5010" stroke-width="0.5"/><circle cx="258.3" cy="488.4" r="4.1" fill="#dd3322" stroke="#7a3a14" stroke-width="0.7"/><text class="s" x="265.1" y="492.4">6:43pm</text>
<path d="M334.8 481.4L336.6 485.9L341.5 486.2L337.8 489.4L338.9 494.1L334.8 491.5L330.7 494.1L331.9 489.4L328.2 486.2L333.0 485.9Z" fill="#94742a" stroke="#6b5010" stroke-width="0.5"/><circle cx="334.8" cy="488.4" r="4.1" fill="#dd3322" stroke="#7a3a14" stroke-width="0.7"/><text class="s" x="341.6" y="492.4">6:44pm</text>
<path d="M411.4 481.4L413.2 485.9L418.0 486.2L414.3 489.4L415.5 494.1L411.4 491.5L407.2 494.1L408.4 489.4L404.7 486.2L409.5 485.9Z" fill="#94742a" stroke="#6b5010" stroke-width="0.5"/><circle cx="411.4" cy="488.4" r="4.1" fill="#dd3322" stroke="#7a3a14" stroke-width="0.7"/><text class="s" x="418.2" y="492.4">6:45pm</text>
<path d="M487.9 481.4L489.7 485.9L494.5 486.2L490.8 489.4L492.0 494.1L487.9 491.5L483.8 494.1L484.9 489.4L481.2 486.2L486.1 485.9Z" fill="#94742a" stroke="#6b5010" stroke-width="0.5"/><circle cx="487.9" cy="488.4" r="4.1" fill="#dd3322" stroke="#7a3a14" stroke-width="0.7"/><text class="s" x="494.7" y="492.4">6:46pm</text>
<path d="M564.4 481.4L566.2 485.9L571.0 486.2L567.3 489.4L568.5 494.1L564.4 491.5L560.2 494.1L561.4 489.4L557.7 486.2L562.5 485.9Z" fill="#94742a" stroke="#6b5010" stroke-width="0.5"/><circle cx="564.4" cy="488.4" r="4.1" fill="#dd3322" stroke="#7a3a14" stroke-width="0.7"/><text class="s" x="571.2" y="492.4">6:46pm</text>
<path d="M640.9 481.4L642.7 485.9L647.5 486.2L643.8 489.4L645.0 494.1L640.9 491.5L636.8 494.1L637.9 489.4L634.2 486.2L639.1 485.9Z" fill="#94742a" stroke="#6b5010" stroke-width="0.5"/><circle cx="640.9" cy="488.4" r="4.1" fill="#dd3322" stroke="#7a3a14" stroke-width="0.7"/><text class="s" x="647.7" y="492.4">6:47pm</text>
<circle cx="141.2" cy="501.9" r="5" fill="#ffffcc" stroke="#888" stroke-width="0.9"/><text class="s" x="148.5" y="505.8">6:04am</text>
<circle cx="219.3" cy="501.9" r="5" fill="#ffffcc" stroke="#888" stroke-width="0.9"/><text class="s" x="226.6" y="505.8">6:34am</text>
<circle cx="297.5" cy="501.9" r="5" fill="#ffffcc" stroke="#888" stroke-width="0.9"/><text class="s" x="304.8" y="505.8">7:06am</text>
<circle cx="375.7" cy="501.9" r="5" fill="#ffffcc" stroke="#888" stroke-width="0.9"/><text class="s" x="383.0" y="505.8">7:40am</text>
<circle cx="454.1" cy="501.9" r="5" fill="#ffffcc" stroke="#888" stroke-width="0.9"/><text class="s" x="461.4" y="505.8">8:16am</text>
<circle cx="532.8" cy="501.9" r="5" fill="#ffffcc" stroke="#888" stroke-width="0.9"/><text class="s" x="540.1" y="505.8">8:57am</text>
<circle cx="611.6" cy="501.9" r="5" fill="#ffffcc" stroke="#888" stroke-width="0.9"/><text class="s" x="618.9" y="505.8">9:41am</text>
<circle cx="690.7" cy="501.9" r="5" fill="#ffffcc" stroke="#888" stroke-width="0.9"/><text class="s" x="698.0" y="505.8">10:30am</text>
<circle cx="102.5" cy="515.3" r="5" fill="#c8c8b4" stroke="#777" stroke-width="0.9"/><text class="s" x="109.8" y="519.8">5:56pm</text>
<circle cx="181.9" cy="515.3" r="5" fill="#c8c8b4" stroke="#777" stroke-width="0.9"/><text class="s" x="189.2" y="519.8">6:51pm</text>
<circle cx="261.4" cy="515.3" r="5" fill="#c8c8b4" stroke="#777" stroke-width="0.9"/><text class="s" x="268.7" y="519.8">7:47pm</text>
<circle cx="340.8" cy="515.3" r="5" fill="#c8c8b4" stroke="#777" stroke-width="0.9"/><text class="s" x="348.1" y="519.8">8:42pm</text>
<circle cx="420.2" cy="515.3" r="5" fill="#c8c8b4" stroke="#777" stroke-width="0.9"/><text class="s" x="427.5" y="519.8">9:37pm</text>
<circle cx="499.5" cy="515.3" r="5" fill="#c8c8b4" stroke="#777" stroke-width="0.9"/><text class="s" x="506.8" y="519.8">10:31pm</text>
<circle cx="578.8" cy="515.3" r="5" fill="#c8c8b4" stroke="#777" stroke-width="0.9"/><text class="s" x="586.1" y="519.8">11:24pm</text>
<circle cx="658.0" cy="515.3" r="5" fill="#c8c8b4" stroke="#777" stroke-width="0.9"/><text class="s" x="665.3" y="519.8">12:15am</text>
<text class="s" x="164.4" y="532.5" text-anchor="end">New Moon</text><path d="M168.9 527V534.2" stroke="#222" stroke-width="0.8"/><text class="s" x="171.7" y="532.5">2:37pm</text>
</svg>
</body></html>
